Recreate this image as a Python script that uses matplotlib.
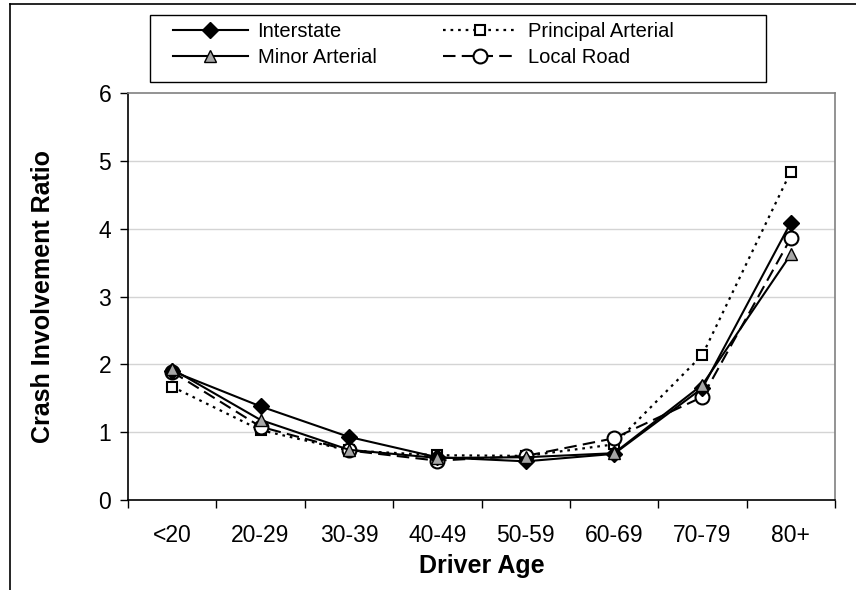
import matplotlib
matplotlib.use("Agg")
import matplotlib.pyplot as plt
from matplotlib.lines import Line2D
from matplotlib.patches import Rectangle

plt.rcParams["font.family"] = ["Liberation Sans", "DejaVu Sans"]

ages = ["<20", "20-29", "30-39", "40-49", "50-59", "60-69", "70-79", "80+"]
interstate = [1.90, 1.38, 0.93, 0.63, 0.57, 0.68, 1.65, 4.09]
principal = [1.67, 1.03, 0.73, 0.66, 0.65, 0.82, 2.14, 4.84]
minor = [1.93, 1.18, 0.74, 0.62, 0.63, 0.69, 1.70, 3.62]
local_road = [1.89, 1.08, 0.73, 0.58, 0.65, 0.91, 1.52, 3.86]

W, H = 856, 590
fig = plt.figure(figsize=(W / 100, H / 100), dpi=100)
ax = fig.add_axes([128 / W, 1 - 500 / H, (835 - 128) / W, (500 - 93) / H])

x = range(len(ages))
l_int, = ax.plot(x, interstate, color="black", lw=1.5, marker="D", ms=8,
                 mfc="black", mec="black", label="Interstate", zorder=4)
l_pri, = ax.plot(x, principal, color="black", lw=1.6, ls=(0, (1.2, 2.2)), marker="s", ms=7.5,
                 mfc="white", mec="black", mew=1.5, label="Principal Arterial", zorder=3)
l_min, = ax.plot(x, minor, color="black", lw=1.5, marker="^", ms=9,
                 mfc="#a6a6a6", mec="black", mew=1, label="Minor Arterial", zorder=5)
l_loc, = ax.plot(x, local_road, color="black", lw=1.5, ls=(0, (6, 3)), marker="o", ms=10,
                 mfc="white", mec="black", mew=1.5, label="Local Road", zorder=3)

ax.set_xlim(-0.5, len(ages) - 0.5)
ax.set_ylim(0, 6)
ax.set_yticks(range(7))
ax.set_xticks([i - 0.5 for i in range(len(ages) + 1)])
ax.set_xticklabels([])
ax.set_xticks(list(x), minor=True)
ax.set_xticklabels(ages, minor=True)
ax.tick_params(axis="x", which="major", length=6, width=1, direction="out")
ax.tick_params(axis="x", which="minor", length=0, pad=17, labelsize=16.5)
ax.tick_params(axis="y", length=6, width=1, direction="out", pad=6, labelsize=16.5)

for yv in range(1, 6):
    ax.axhline(yv, color="#d4d4d4", lw=1, zorder=0)

ax.spines["left"].set_color("black")
ax.spines["bottom"].set_color("black")
ax.spines["top"].set_color("#808080")
ax.spines["right"].set_color("#808080")
for s in ax.spines.values():
    s.set_linewidth(1.2)

ax.set_xlabel("Driver Age", fontsize=18, fontweight="bold", va="center")
ax.xaxis.set_label_coords(0.5, -0.162)
ax.set_ylabel("Crash Involvement Ratio", fontsize=18, fontweight="bold", va="center")
ax.yaxis.set_label_coords(-0.12, 0.5)

# legend: Excel-like box with extra space on the right, so frame drawn separately
fig.legend([l_int, l_min, l_pri, l_loc],
           ["Interstate", "Minor Arterial", "Principal Arterial", "Local Road"],
           loc="upper left", bbox_to_anchor=(173 / W, 1 - 22 / H), ncol=2,
           fontsize=14.5, frameon=False, borderaxespad=0, borderpad=0,
           handlelength=3.7, handletextpad=0.5, columnspacing=3.3,
           labelspacing=0.36, numpoints=1)
fig.add_artist(Rectangle((150 / W, 1 - 82 / H), (766 - 150) / W, (82 - 15) / H,
                         transform=fig.transFigure, fill=False, ec="black", lw=1))

# outer chart border (only left and top visible in the crop)
fig.add_artist(Line2D([10 / W, 10 / W], [0, 1 - 4 / H], color="black", lw=1.2))
fig.add_artist(Line2D([10 / W, 1], [1 - 4 / H, 1 - 4 / H], color="black", lw=1.2))

fig.savefig("out.png", dpi=100)
